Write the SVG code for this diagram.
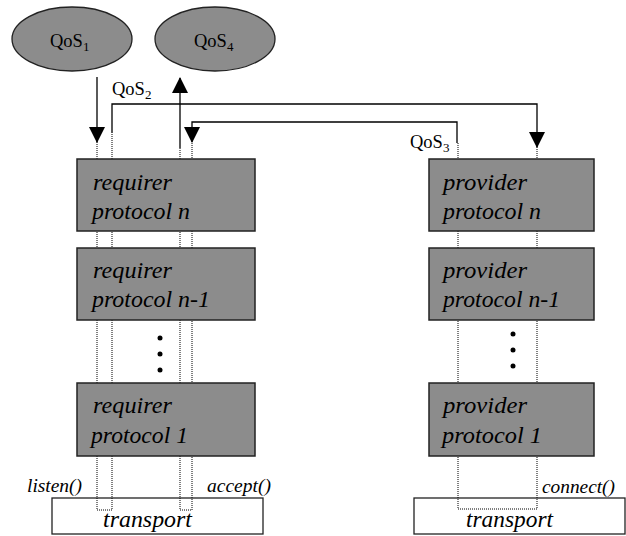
<svg xmlns="http://www.w3.org/2000/svg" width="626" height="536" viewBox="0 0 626 536">
<defs>
<style>
.ell{fill:#8c8c8c;stroke:#222;stroke-width:1.3}
.box{fill:#8c8c8c;stroke:#222;stroke-width:1.5}
.tr{fill:#fff;stroke:#222;stroke-width:1.3}
.ln{fill:none;stroke:#000;stroke-width:1.3}
.dot{fill:none;stroke:#000;stroke-width:1;stroke-dasharray:1,1}
text{font-family:"Liberation Serif","Times New Roman","DejaVu Serif",serif;fill:#000}
.q{font-size:18.5px}
.sub{font-size:13px}
.it{font-style:italic;font-size:23px}
.lb{font-style:italic;font-size:18.5px}
</style>
<marker id="ah" markerUnits="userSpaceOnUse" markerWidth="16" markerHeight="16" viewBox="0 0 16 16" refX="15" refY="8" orient="auto">
<path d="M0,0 L16,8 L0,16 Z" fill="#000"/>
</marker>
</defs>
<g id="qos1"><ellipse class="ell" cx="72" cy="39" rx="60" ry="32"/><text class="q" x="50" y="47">QoS<tspan class="sub" dy="4">1</tspan></text></g>
<g id="qos4"><ellipse class="ell" cx="215" cy="39" rx="60" ry="32"/><text class="q" x="194" y="47">QoS<tspan class="sub" dy="4">4</tspan></text></g>
<g id="transport-left"><rect class="tr" x="52" y="498" width="211" height="36"/><text class="it" x="103" y="527" textLength="89" lengthAdjust="spacingAndGlyphs">transport</text></g>
<g id="transport-right"><rect class="tr" x="414" y="498" width="211" height="36"/><text class="it" x="466" y="527" textLength="87" lengthAdjust="spacingAndGlyphs">transport</text></g>
<g id="connectors">
<path class="ln" d="M97,77 V142" marker-end="url(#ah)"/>
<path class="ln" d="M112,133 V104 H537 V147" marker-end="url(#ah)"/>
<path class="ln" d="M180,148 V78" marker-end="url(#ah)"/>
<path class="ln" d="M457,143 V122 H192 V142" marker-end="url(#ah)"/>
<path class="dot" d="M97,142 V510 H112 V133"/>
<path class="dot" d="M180,148 V510 H192 V142"/>
<path class="dot" d="M537,147 V509 H458 V143"/>
<text class="q" x="112" y="95">QoS<tspan class="sub" dy="4">2</tspan></text>
<text class="q" x="410" y="148">QoS<tspan class="sub" dy="4">3</tspan></text>
<text class="lb" x="27" y="492" textLength="55" lengthAdjust="spacingAndGlyphs">listen()</text>
<text class="lb" x="207" y="492" textLength="64" lengthAdjust="spacingAndGlyphs">accept()</text>
<text class="lb" x="542" y="493" textLength="73" lengthAdjust="spacingAndGlyphs">connect()</text>
</g>
<g id="req-n"><rect class="box" x="77" y="159" width="178" height="72"/><text class="it" x="93" y="190" textLength="79" lengthAdjust="spacingAndGlyphs">requirer</text><text class="it" x="92" y="219" textLength="98" lengthAdjust="spacingAndGlyphs">protocol n</text></g>
<g id="req-n1"><rect class="box" x="77" y="248" width="178" height="72"/><text class="it" x="93" y="278" textLength="79" lengthAdjust="spacingAndGlyphs">requirer</text><text class="it" x="92" y="307" textLength="118" lengthAdjust="spacingAndGlyphs">protocol n-1</text></g>
<g id="req-dots"><circle cx="160" cy="338" r="2.5"/><circle cx="160" cy="354" r="2.5"/><circle cx="160" cy="370" r="2.5"/></g>
<g id="req-1"><rect class="box" x="77" y="383" width="178" height="73"/><text class="it" x="93" y="413" textLength="79" lengthAdjust="spacingAndGlyphs">requirer</text><text class="it" x="91" y="443" textLength="97" lengthAdjust="spacingAndGlyphs">protocol 1</text></g>
<g id="prov-n"><rect class="box" x="429" y="159" width="165" height="72"/><text class="it" x="443" y="190" textLength="84" lengthAdjust="spacingAndGlyphs">provider</text><text class="it" x="443" y="219" textLength="98" lengthAdjust="spacingAndGlyphs">protocol n</text></g>
<g id="prov-n1"><rect class="box" x="429" y="248" width="165" height="72"/><text class="it" x="443" y="278" textLength="84" lengthAdjust="spacingAndGlyphs">provider</text><text class="it" x="443" y="307" textLength="117" lengthAdjust="spacingAndGlyphs">protocol n-1</text></g>
<g id="prov-dots"><circle cx="513" cy="334" r="2.5"/><circle cx="513" cy="350" r="2.5"/><circle cx="513" cy="366" r="2.5"/></g>
<g id="prov-1"><rect class="box" x="429" y="383" width="165" height="73"/><text class="it" x="443" y="413" textLength="84" lengthAdjust="spacingAndGlyphs">provider</text><text class="it" x="442" y="443" textLength="100" lengthAdjust="spacingAndGlyphs">protocol 1</text></g>
</svg>
